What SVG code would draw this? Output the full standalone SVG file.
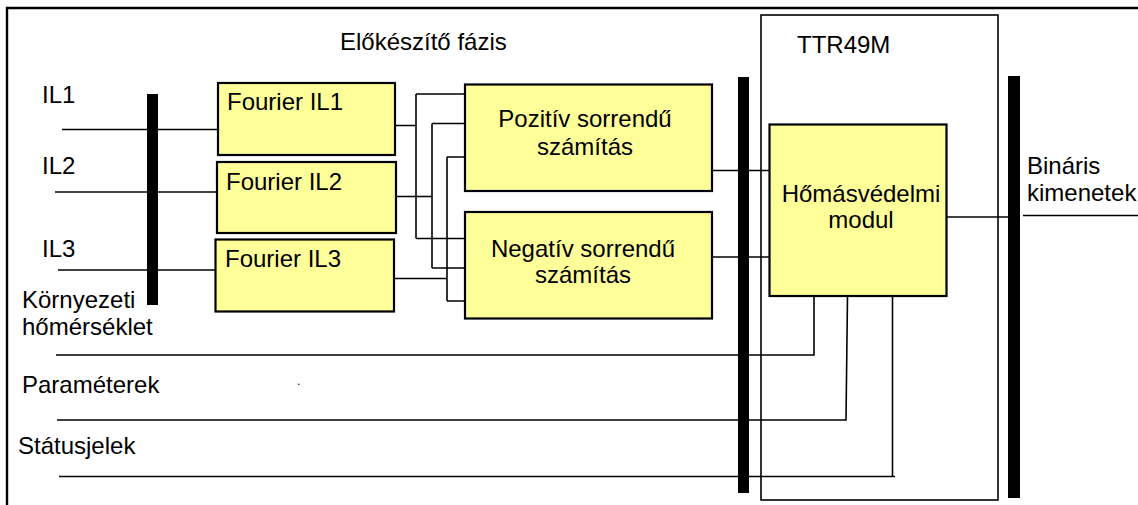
<svg xmlns="http://www.w3.org/2000/svg" width="1138" height="505" viewBox="0 0 1138 505">
<style>
text{font-family:"Liberation Sans",Arial,sans-serif;font-size:24px;fill:#000}
.c{text-anchor:middle}
.box{fill:#ffff99;stroke:#000;stroke-width:2.2}
.bar{fill:#000}
.w{fill:none;stroke:#000;stroke-width:1.6}
.frame{fill:none;stroke:#000;stroke-width:2.4}
</style>
<rect width="1138" height="505" fill="#fff"/>
<path class="frame" d="M7,505 V8 H1138"/>
<text x="340" y="50">Előkészítő fázis</text>
<g id="ttr49m">
<rect x="761" y="15" width="237" height="485" fill="none" stroke="#000" stroke-width="1.6"/>
<text x="797" y="53">TTR49M</text>
</g>
<g id="bars">
<rect class="bar" x="147" y="94" width="11" height="211"/>
<rect class="bar" x="738" y="77" width="11" height="416"/>
<rect class="bar" x="1008" y="76" width="12" height="422"/>
</g>
<g id="labels">
<text x="42" y="103">IL1</text>
<text x="42" y="174">IL2</text>
<text x="42" y="257">IL3</text>
<text x="22" y="308">Környezeti</text>
<text x="22" y="335">hőmérséklet</text>
<text x="22" y="393">Paraméterek</text>
<text x="18" y="454">Státusjelek</text>
<text x="297" y="385" style="font-size:12px">.</text>
<text x="1027" y="174">Bináris</text>
<text x="1027" y="201">kimenetek</text>
</g>
<g id="connectors">
<path class="w" d="M62,129.5 H218"/>
<path class="w" d="M55,192 H217"/>
<path class="w" d="M58,270 H216"/>
<path class="w" d="M395,125.5 H416 M416,94 V238.5 M416,94 H466 M416,238.5 H466"/>
<path class="w" d="M396,196.5 H432 M432,123.5 V268 M432,123.5 H466 M432,268 H466"/>
<path class="w" d="M394,278.5 H447 M447,157 V301 M447,157 H466 M447,301 H466"/>
<path class="w" d="M712,170.5 H770"/>
<path class="w" d="M707,257 H770"/>
<path class="w" d="M947,217 H1009"/>
<path class="w" d="M1023,215.5 H1138"/>
<path class="w" d="M56,355 H814 V296"/>
<path class="w" d="M57,420 H846 L847.5,296"/>
<path class="w" d="M59,476.5 H895 M892.5,476.5 V296"/>
</g>
<g id="fourier-il1">
<rect class="box" x="218" y="83" width="177" height="72"/>
<text x="227" y="110">Fourier IL1</text>
</g>
<g id="fourier-il2">
<rect class="box" x="217" y="162" width="179" height="71"/>
<text x="226" y="190">Fourier IL2</text>
</g>
<g id="fourier-il3">
<rect class="box" x="215.5" y="239.5" width="178.5" height="72"/>
<text x="225" y="267">Fourier IL3</text>
</g>
<g id="pozitiv">
<rect class="box" x="465" y="84.5" width="247" height="106.5"/>
<text class="c" x="585" y="127">Pozitív sorrendű</text>
<text class="c" x="585" y="155">számítás</text>
</g>
<g id="negativ">
<rect class="box" x="465" y="212" width="247" height="106.5"/>
<text class="c" x="583" y="257">Negatív sorrendű</text>
<text class="c" x="583" y="283">számítás</text>
</g>
<g id="homasvedelmi">
<rect class="box" x="769.5" y="124.5" width="177" height="171.5"/>
<text class="c" x="861" y="202">Hőmásvédelmi</text>
<text class="c" x="861" y="228">modul</text>
</g>
</svg>
